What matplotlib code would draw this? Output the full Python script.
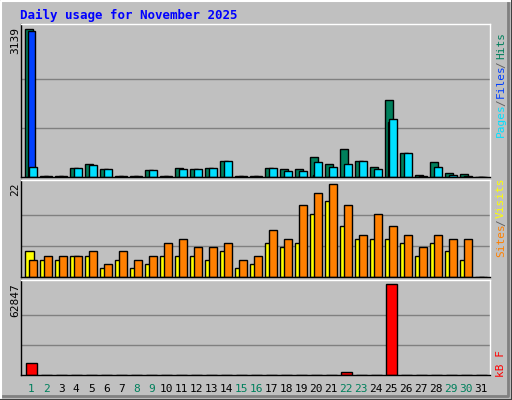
import matplotlib
matplotlib.use("Agg")
import matplotlib.pyplot as plt
from matplotlib.lines import Line2D

days = list(range(1, 32))
hits  = [3139,25,25,200,280,180,20,20,150,20,200,170,200,340,20,20,200,170,170,415,280,605,340,215,1645,515,45,320,85,65,0]
files = [3110,0,0,0,0,0,0,0,0,0,0,0,0,0,0,0,0,0,0,40,0,0,0,0,1175,0,0,0,0,0,0]
pages = [220,25,25,200,255,180,20,20,150,20,170,170,200,340,20,20,200,130,130,320,215,280,340,170,1240,515,20,215,45,30,0]
sites  = [6,4,4,5,5,2,4,2,3,5,5,5,4,6,2,3,8,7,8,15,18,12,9,9,9,8,5,8,6,4,0]
visits = [4,5,5,5,6,3,6,4,5,8,9,7,7,8,4,5,11,9,17,20,22,17,10,15,12,10,7,10,9,9,0]
kbytes = [8290,100,100,100,100,100,100,100,100,100,100,100,100,100,100,100,100,100,100,100,100,2070,100,100,62847,100,100,100,100,100,0]
weekend = [1,2,8,9,15,16,22,23,29,30]
title = "Daily usage for November 2025"

W, H = 512, 400
fig = plt.figure(figsize=(W/100, H/100), dpi=100, facecolor="#c0c0c0")
def fl(xs, ys, c, lw=1):
    fig.lines.append(Line2D([x/W for x in xs], [1-y/H for y in ys], transform=fig.transFigure, color=c, lw=lw))
fl([0.5, 0.5, 511.5], [399.5, 0.5, 0.5], "white", 1.5)
fl([0.5, 511.5, 511.5], [399.5, 399.5, 0.5], "#404040", 1.5)
fl([3, 508, 508], [396, 396, 3], "#808080", 2)

x0, x1 = 20.7, 490
xl = (0.693, 0.693 + (x1-x0)/15.0)
mono = "DejaVu Sans Mono"

def mkax(top, bottom, maxv, peak_top):
    ax = fig.add_axes([x0/W, 1-bottom/H, (x1-x0)/W, (bottom-top)/H])
    ax.set_facecolor("#c0c0c0")
    ymax = maxv*(bottom-top)/(bottom-peak_top)
    ax.set_ylim(0, ymax); ax.set_xlim(*xl)
    for g in (maxv/3, 2*maxv/3):
        ax.axhline(g, color="#808080", lw=1, zorder=0)
    ax.set_xticks([]); ax.set_yticks([])
    for s in ax.spines.values():
        s.set_color("black"); s.set_linewidth(1)
    ax.spines["top"].set_color("white"); ax.spines["right"].set_color("white")
    return ax

def bars(ax, vals, off, w, col):
    ax.bar([d+off for d in days], vals, width=w, align="edge", color=col, edgecolor="black", lw=1)

a1 = mkax(24, 177, max(hits), 29.3)
bars(a1, hits, 0.0, 0.49, "#00805c")
bars(a1, files, 0.2, 0.45, "#0040ff")
bars(a1, pages, 0.25, 0.52, "#00e0ff")

a2 = mkax(180.3, 276.7, max(visits), 184.3)
bars(a2, sites, 0.0, 0.55, "#ffff00")
bars(a2, visits, 0.25, 0.5, "#ff8000")

a3 = mkax(280.3, 375.3, max(kbytes), 284.3)
bars(a3, kbytes, 0.07, 0.7, "#ff0000")

fig.text(20/W, 1-15/H, title, color="#0000ff", family=mono, weight="bold", fontsize=9, va="center")
for lab, y in ((str(max(hits)), 27), (str(max(visits)), 183), (str(max(kbytes)), 283)):
    fig.text(15/W, 1-y/H, lab, rotation=90, ha="center", va="top", family=mono, fontsize=8)

def rlabel(parts, ybottom):
    y = ybottom
    for txt, col in parts:
        fig.text(501/W, 1-y/H, txt, rotation=90, ha="center", va="bottom", color=col, family=mono, fontsize=8)
        y -= len(txt)*5.5 + 3
rlabel([("Pages", "#00e0ff"), ("/", "#606060"), ("Files", "#0040ff"), ("/", "#606060"), ("Hits", "#00805c")], 137)
rlabel([("Sites", "#ff8000"), ("/", "#606060"), ("Visits", "#ffff00")], 257)
rlabel([("kB F", "#ff0000")], 377)

for d in days:
    fig.text((x0 + (d-xl[0]+0.4)*15)/W, 1-389/H, str(d), ha="center", va="center", family=mono,
             fontsize=8, color="#00805c" if d in weekend else "black")

fig.savefig("out.png", dpi=100, facecolor=fig.get_facecolor())
